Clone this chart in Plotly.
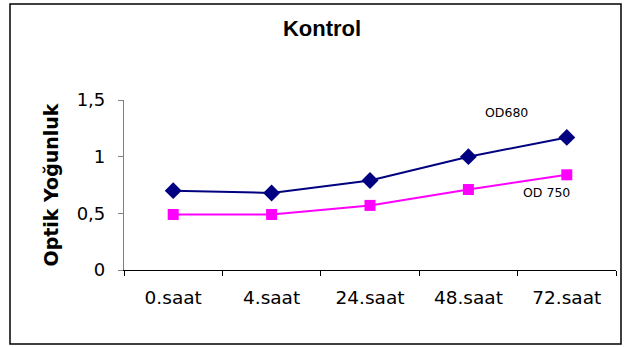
import plotly.graph_objects as go

# Measurement times and optical density readings
times = ["0.saat", "4.saat", "24.saat", "48.saat", "72.saat"]
od680 = [0.70, 0.68, 0.79, 1.00, 1.17]
od750 = [0.49, 0.49, 0.57, 0.71, 0.84]
y_ticks = [0, 0.5, 1, 1.5]
y_tick_text = ["0", "0,5", "1", "1,5"]

W, H = 624, 347
ML, MR, MT, MB = 124, 8, 100, 77
pw, ph = W - ML - MR, H - MT - MB

fig = go.Figure()
fig.add_trace(go.Scatter(
    x=times, y=od680, mode="lines+markers", name="OD680",
    line=dict(color="#000080", width=2),
    marker=dict(symbol="diamond", size=13, color="#000080"),
))
fig.add_trace(go.Scatter(
    x=times, y=od750, mode="lines+markers", name="OD 750",
    line=dict(color="#FF00FF", width=2),
    marker=dict(symbol="square", size=11, color="#FF00FF"),
))

font = "Liberation Sans, Arial, sans-serif"
wide = "DejaVu Sans, Verdana, sans-serif"

# Series labels placed beside the lines
fig.add_annotation(x=3.39, y=1.39, text="OD680", showarrow=False,
                   font=dict(size=12.5, color="#000000", family=wide))
fig.add_annotation(x=3.79, y=0.68, text="OD 750", showarrow=False,
                   font=dict(size=12.5, color="#000000", family=wide))

# Outer frame around the chart
fig.add_shape(type="rect", xref="paper", yref="paper",
              x0=(10 - ML) / pw, x1=(621 - ML) / pw,
              y0=(H - MB - 344) / ph, y1=(H - MB - 4) / ph,
              line=dict(color="#000000", width=1.5), fillcolor="rgba(0,0,0,0)",
              layer="below")

fig.update_layout(
    width=W, height=H,
    margin=dict(l=ML, r=MR, t=MT, b=MB),
    paper_bgcolor="white", plot_bgcolor="white",
    showlegend=False,
    font=dict(family=font, color="#000000"),
    title=dict(text="<b>Kontrol</b>", x=322 / W, xanchor="center",
               y=1 - 28 / H, yanchor="middle",
               font=dict(size=22, family=font, color="#000000")),
    xaxis=dict(
        type="category", range=[-0.5, 4.5],
        showline=True, linecolor="#000000", linewidth=1.2,
        ticks="outside", ticklen=5, tickcolor="#000000", tickwidth=1,
        tickson="boundaries", ticklabelstandoff=11,
        showgrid=False, zeroline=False,
        tickfont=dict(size=18.5, family=wide, color="#000000"),
    ),
    yaxis=dict(
        range=[0, 1.5], tickvals=y_ticks, ticktext=y_tick_text,
        showline=True, linecolor="#808080", linewidth=1.2,
        ticks="outside", ticklen=5, tickcolor="#808080", tickwidth=1,
        ticklabelstandoff=9,
        showgrid=False, zeroline=False,
        tickfont=dict(size=18, family=wide, color="#000000"),
        title=dict(text="<b>Optik Yoğunluk</b>", standoff=13,
                   font=dict(size=19, family=wide, color="#000000")),
    ),
)

fig.write_html("out.html")
